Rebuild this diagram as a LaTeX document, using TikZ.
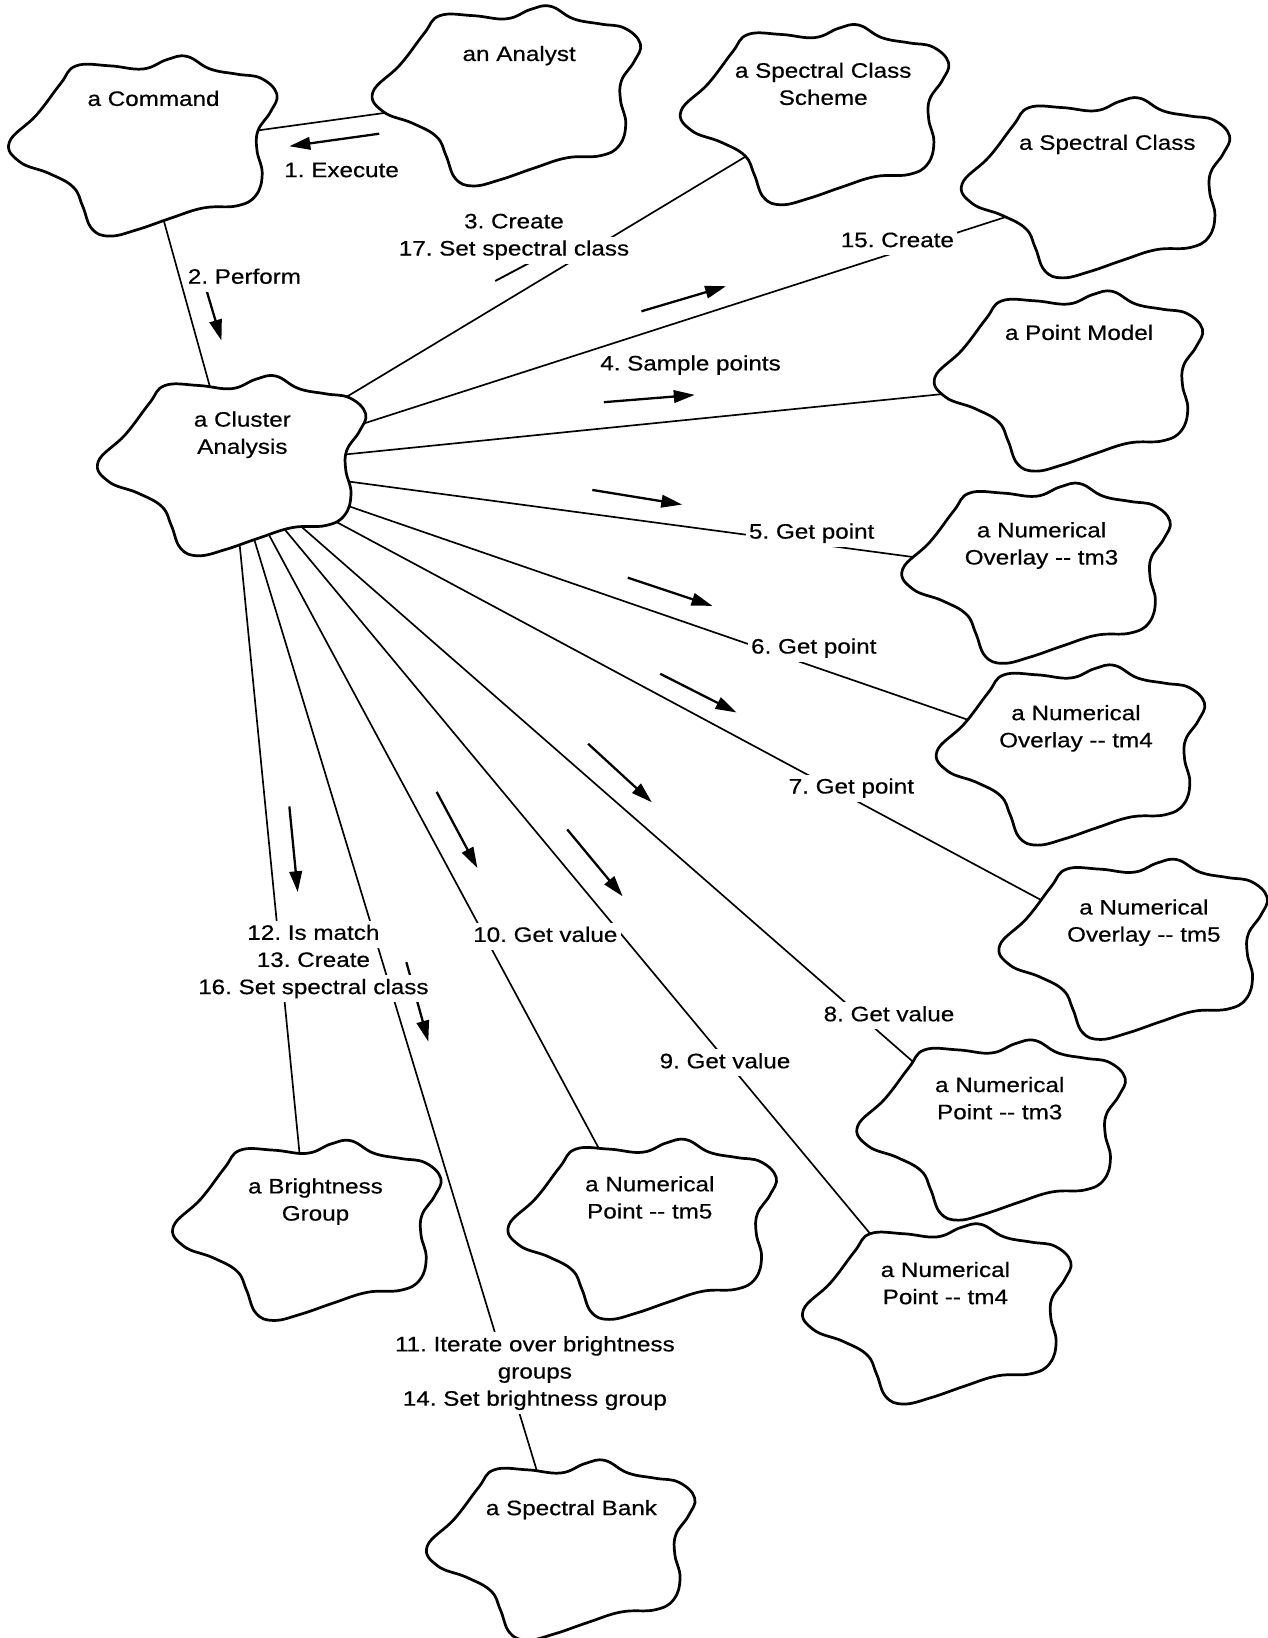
\documentclass[tikz,border=0pt]{standalone}
\usepackage{fontspec}
\setmainfont[FakeStretch=1.16,FakeBold=0.5]{Liberation Sans}
\usetikzlibrary{arrows.meta}
\frenchspacing
% white backing for message labels, line by line, rows touching
\newcommand\wbox[1]{{\setlength{\fboxsep}{0pt}\colorbox{white}{\hspace{1.5pt}\strut#1\hspace{1.5pt}}}}
\begin{document}
\begin{tikzpicture}[x=0.5pt,y=-0.5pt,
  every node/.style={font=\fontsize{10}{13}\selectfont},
  objtext/.style={anchor=north, align=center, inner sep=0pt},
  msgtext/.style={anchor=north, align=center, inner sep=0pt},
  link/.style={line width=0.8pt},
  msgline/.style={line width=1.1pt},
  msg/.style={msgline, -{Triangle[length=10pt,width=6pt]}},
  cloudline/.style={line width=1.3pt, fill=white, line join=round},
  bcloud/.pic={
    \draw[cloudline] plot[smooth cycle, tension=0.7] coordinates {
      (-128,-4) (-102,-30) (-79,-60) (-64,-77) (-32,-77) (0,-74)
      (23,-83) (42,-86) (64,-74) (90,-69) (113,-65) (128,-50)
      (122,-33) (110,-15) (109,4) (114,26) (108,47) (90,57)
      (58,59) (26,69) (-6,80) (-32,86) (-49,79) (-58,57)
      (-67,39) (-90,26) (-118,15)};
  }
]
\fill[white] (0,0) rectangle (1213,1568);
\useasboundingbox (0,0) rectangle (1213,1568);

% object positions
\coordinate (cmd) at (137,140);
\coordinate (ana) at (485,92);
\coordinate (scs) at (780,110);
\coordinate (sc)  at (1049,180);
\coordinate (pm)  at (1023,365);
\coordinate (ca)  at (222,446);
\coordinate (ov3) at (992,549);
\coordinate (ov4) at (1025,723);
\coordinate (ov5) at (1085,909);
\coordinate (np3) at (949,1082);
\coordinate (np4) at (897,1258);
\coordinate (np5) at (615,1177);
\coordinate (bg)  at (294,1178);
\coordinate (sb)  at (537,1484);

% links
\draw[link] (cmd) -- (ana);
\draw[link] (cmd) -- (ca);
\foreach \t in {scs,sc,pm,ov3,ov4,ov5,np3,np4,np5,bg,sb}
  \draw[link] (ca) -- (\t);

% message arrows
\coordinate (m1s) at (363,128);  \coordinate (m1e) at (277,140);
\coordinate (m2s) at (198,279);  \coordinate (m2e) at (212,326);
\coordinate (m3s) at (474,269);  \coordinate (m3e) at (508,251);
\coordinate (m15s) at (614,298); \coordinate (m15e) at (695,274);
\coordinate (m4s) at (578,385);  \coordinate (m4e) at (665,378);
\coordinate (m5s) at (567,469);  \coordinate (m5e) at (653,483);
\coordinate (m6s) at (601,553);  \coordinate (m6e) at (682,580);
\coordinate (m7s) at (632,645);  \coordinate (m7e) at (705,682);
\coordinate (m8s) at (563,712);  \coordinate (m8e) at (624,768);
\coordinate (m9s) at (543,794);  \coordinate (m9e) at (596,858);
\coordinate (m10s) at (418,758); \coordinate (m10e) at (457,831);
\coordinate (m11s) at (389,921); \coordinate (m11e) at (410,997);
\coordinate (m12s) at (277,772); \coordinate (m12e) at (285,854);
\draw[msgline, line width=0.9pt] (m3s) -- (m3e);
\foreach \m in {m1,m2,m15,m4,m5,m6,m7,m8,m9,m10,m11,m12}
  \draw[msg] (\m s) -- (\m e);

% objects
\foreach \o in {cmd,ana,scs,sc,pm,ca,ov3,ov4,ov5,np3,np4,np5,bg,sb}
  \pic at (\o) {bcloud};

\node[objtext] (cmd-t) at (147,86.5)  {a Command};
\node[objtext] (ana-t) at (497,43.5)  {an Analyst};
\node[objtext] (scs-t) at (788,59.5)  {a Spectral Class\\Scheme};
\node[objtext] (sc-t)  at (1060,128.5) {a Spectral Class};
\node[objtext] (pm-t)  at (1033,310.5) {a Point Model};
\node[objtext] (ca-t)  at (232,393.5) {a Cluster\\Analysis};
\node[objtext] (ov3-t) at (997,499.5) {a Numerical\\Overlay -{}- tm3};
\node[objtext] (ov4-t) at (1030,674.5) {a Numerical\\Overlay -{}- tm4};
\node[objtext] (ov5-t) at (1095,860.5) {a Numerical\\Overlay -{}- tm5};
\node[objtext] (np3-t) at (957,1030.5) {a Numerical\\Point -{}- tm3};
\node[objtext] (np4-t) at (905,1207.5) {a Numerical\\Point -{}- tm4};
\node[objtext] (np5-t) at (622,1125.5) {a Numerical\\Point -{}- tm5};
\node[objtext] (bg-t)  at (302,1127.5) {a Brightness\\Group};
\node[objtext] (sb-t)  at (547,1435.5) {a Spectral Bank};

% message labels
\node[msgtext] (l1)  at (327,151) {\wbox{1. Execute}};
\node[msgtext] (l2)  at (234,253) {\wbox{2. Perform}};
\node[msgtext] (l3)  at (492,200) {\wbox{3. Create}\\\wbox{17. Set spectral class}};
\node[msgtext] (l15) at (859,218) {\wbox{15. Create}};
\node[msgtext] (l4)  at (661,336) {\wbox{4. Sample points}};
\node[msgtext] (l5)  at (777,497) {\wbox{5. Get point}};
\node[msgtext] (l6)  at (779,607) {\wbox{6. Get point}};
\node[msgtext] (l7)  at (815,741) {\wbox{7. Get point}};
\node[msgtext] (l8)  at (851,959) {\wbox{8. Get value}};
\node[msgtext] (l9)  at (694,1004) {\wbox{9. Get value}};
\node[msgtext] (l10) at (522,883) {\wbox{10. Get value}};
\node[msgtext] (l11) at (512,1275) {\wbox{11. Iterate over brightness}\\\wbox{groups}\\\wbox{14. Set brightness group}};
\node[msgtext] (l12) at (300,881) {\wbox{12. Is match}\\\wbox{13. Create}\\\wbox{16. Set spectral class}};
\end{tikzpicture}
\end{document}
